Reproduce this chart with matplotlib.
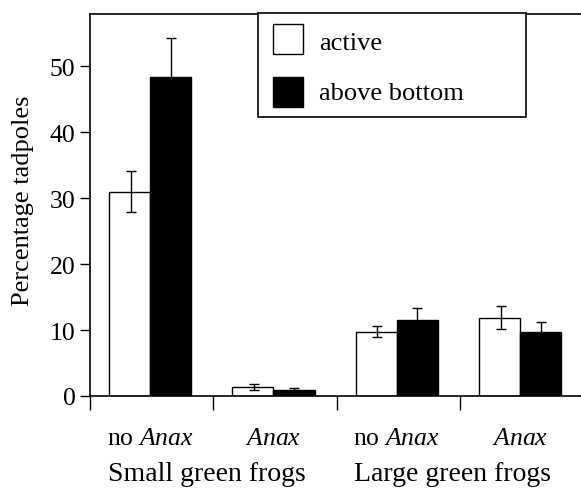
import matplotlib
matplotlib.use("Agg")
import matplotlib.pyplot as plt
from matplotlib.patches import Rectangle
import numpy as np

plt.rcParams['font.family'] = ['Liberation Serif', 'DejaVu Serif']
plt.rcParams['mathtext.fontset'] = 'custom'
plt.rcParams['mathtext.rm'] = 'Liberation Serif'
plt.rcParams['mathtext.it'] = 'Liberation Serif:italic'

conditions = ['no $\\mathit{Anax}$', '$\\mathit{Anax}$', 'no $\\mathit{Anax}$', '$\\mathit{Anax}$']
groups = ['Small green frogs', 'Large green frogs']
group_pos = [0.95, 2.94]
active = [31.0, 1.3, 9.75, 11.9]
active_err = [3.1, 0.45, 0.85, 1.75]
above = [48.3, 0.9, 11.5, 9.75]
above_err = [6.0, 0.25, 1.8, 1.5]
series_labels = ['active', 'above bottom']

W, H = 581, 489
fig = plt.figure(figsize=(W / 100, H / 100), dpi=100)
ax_left, ax_right, ax_top, ax_bottom = 90, 581, 14.5, 397
aw, ah = ax_right - ax_left, ax_bottom - ax_top
ax = fig.add_axes([ax_left / W, (H - ax_bottom) / H, aw / W, ah / H])


def axx(px):
    return (px - ax_left) / aw


def axy(py):
    return (ax_bottom - py) / ah


gw = 123.3
ax.set_xlim(0, aw / gw)
ax.set_ylim(0, 58)

x = np.arange(len(conditions))
w = 0.333
c = x + 0.488
ax.bar(c - w / 2, active, w, color='white', edgecolor='black', linewidth=1.0, zorder=2)
ax.bar(c + w / 2, above, w, color='black', edgecolor='black', linewidth=1.0, zorder=2)
ax.errorbar(c - w / 2 + 0.01, active, yerr=active_err, fmt='none', ecolor='black',
            elinewidth=1.0, capsize=3.5, capthick=1.0, zorder=3)
ax.errorbar(c + w / 2, above, yerr=above_err, fmt='none', ecolor='black',
            elinewidth=1.0, capsize=3.5, capthick=1.0, zorder=3)

ax.spines['right'].set_visible(False)
for s in ['left', 'top', 'bottom']:
    ax.spines[s].set_linewidth(1.2)

ax.set_yticks([0, 10, 20, 30, 40, 50])
ax.tick_params(axis='y', direction='out', length=7, width=1.0, pad=3.5, labelsize=18.5)
ax.set_xticks([0, 1, 2, 3])
ax.set_xticklabels([])
ax.tick_params(axis='x', direction='out', length=10, width=1.0)

tr = ax.get_xaxis_transform()
for xi, lab in zip(c, conditions):
    ax.text(xi, axy(445), lab, transform=tr, ha='center', va='baseline', fontsize=18.5)
for gx, g in zip(group_pos, groups):
    ax.text(gx, axy(481), g, transform=tr, ha='center', va='baseline', fontsize=20)

ax.text(axx(23), axy(201), 'Percentage tadpoles', transform=ax.transAxes, rotation=90,
        ha='center', va='center', fontsize=19)

# legend box
ax.add_patch(Rectangle((axx(258), axy(118)), axx(526) - axx(258), axy(14.5) - axy(118),
                       transform=ax.transAxes, facecolor='white', edgecolor='black',
                       linewidth=1.2, clip_on=False, zorder=5))
for (top, col, lab, base) in [(25, 'white', series_labels[0], 50),
                              (78, 'black', series_labels[1], 100)]:
    ax.add_patch(Rectangle((axx(273), axy(top + 30)), axx(303) - axx(273), axy(top) - axy(top + 30),
                           transform=ax.transAxes, facecolor=col, edgecolor='black',
                           linewidth=1.0, clip_on=False, zorder=6))
    ax.text(axx(319), axy(base), lab, transform=ax.transAxes, ha='left', va='baseline',
            fontsize=19, zorder=7)

fig.savefig('out.png', dpi=100)
